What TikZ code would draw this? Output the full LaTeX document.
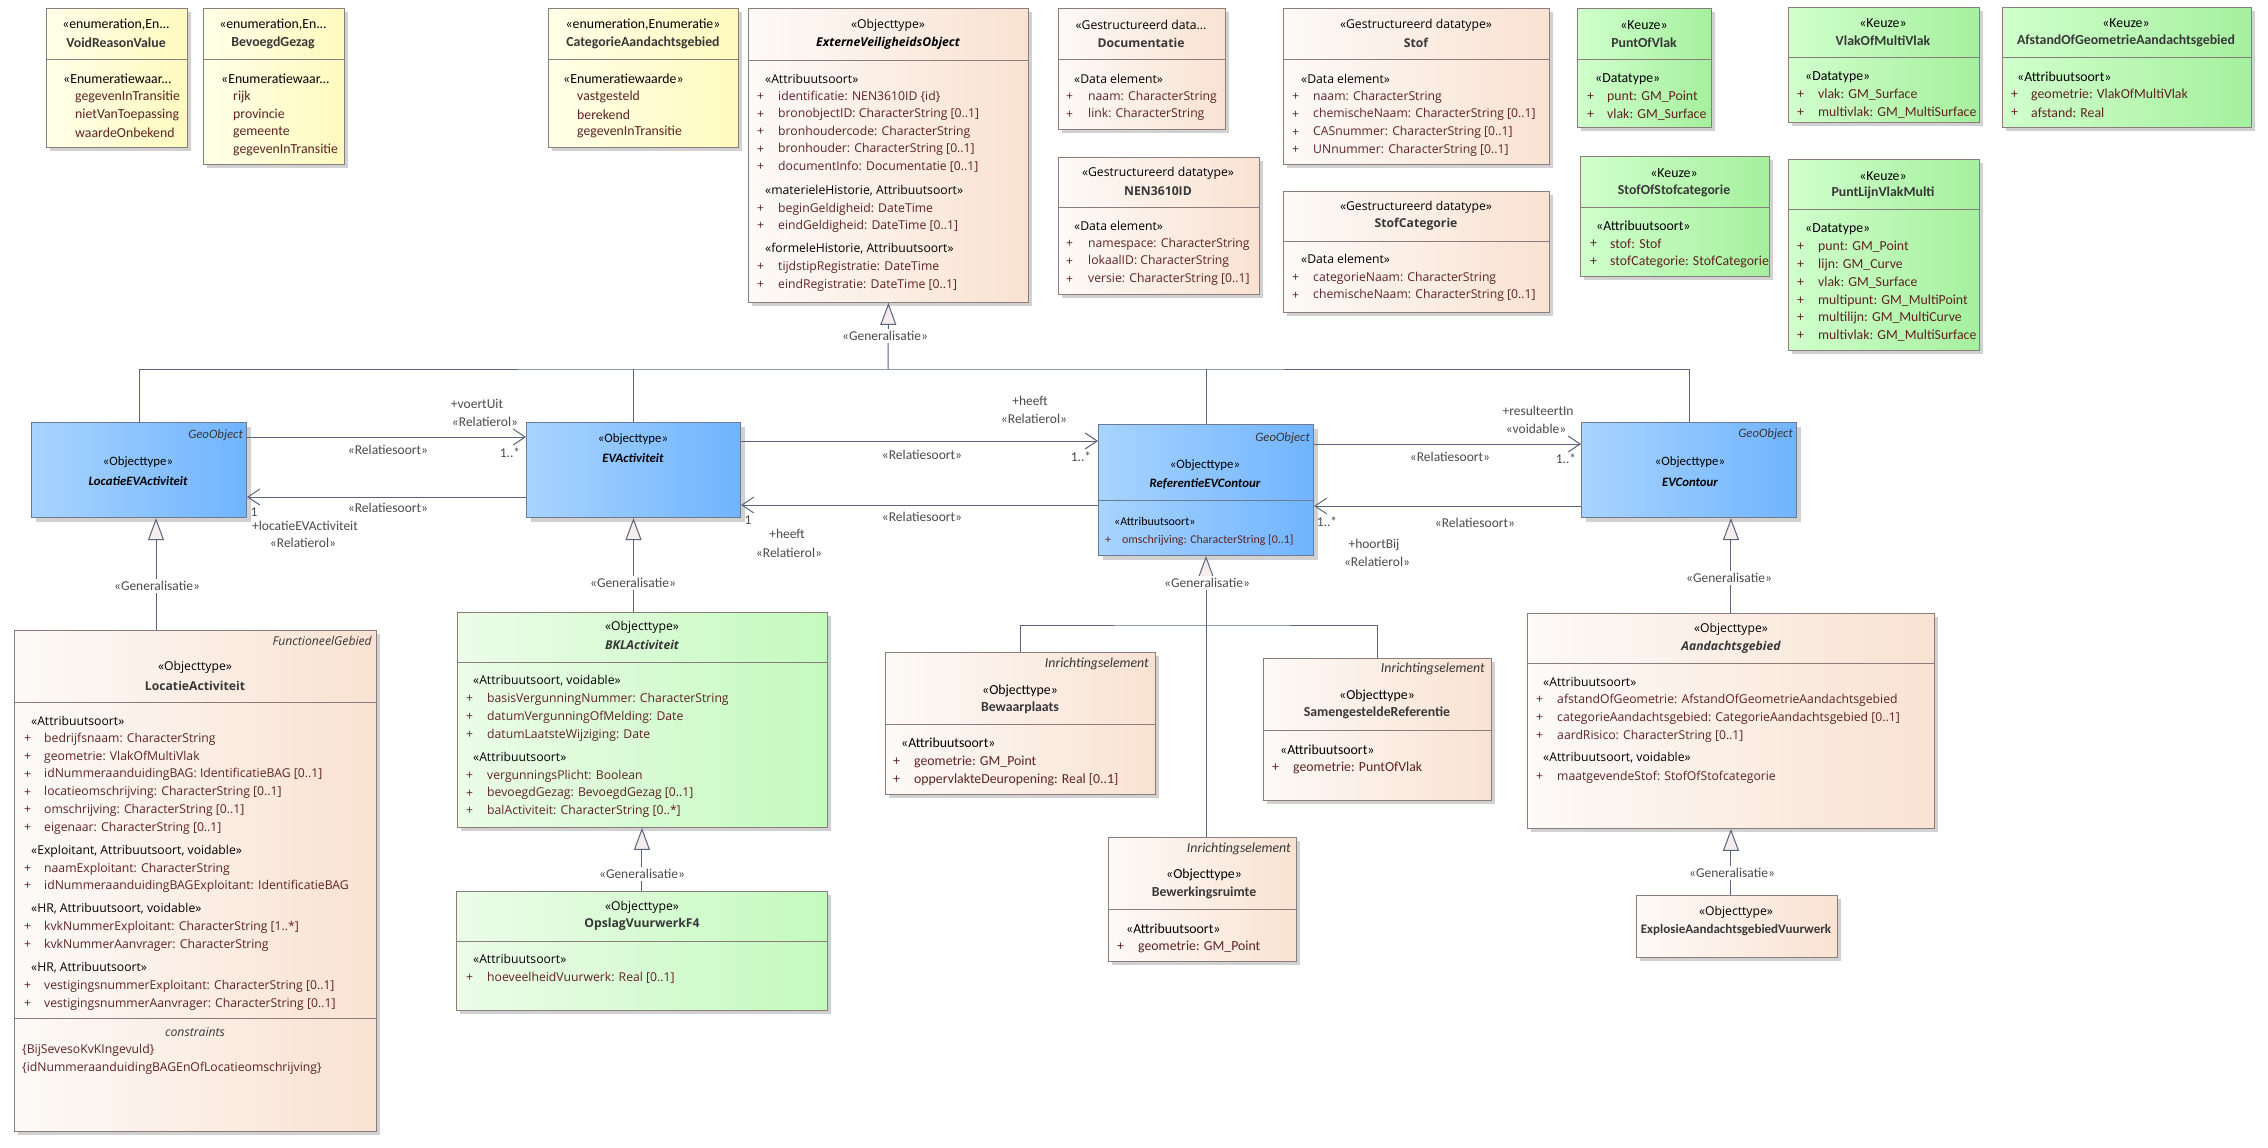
\documentclass[tikz,border=0pt]{standalone}
\usepackage{fontspec}
\setmainfont{Open Sans}
\newfontfamily\calibri{Carlito}
\usetikzlibrary{arrows.meta,shadows}

\definecolor{randkleur}{RGB}{140,125,125}
\definecolor{blauwrand}{RGB}{110,122,145}
\definecolor{lijnkleur}{RGB}{90,100,125}
\definecolor{attrkleur}{RGB}{95,35,35}
\definecolor{tekstgrijs}{RGB}{75,75,75}
\definecolor{naamkleur}{RGB}{55,55,55}
\definecolor{geelL}{RGB}{255,255,232}
\definecolor{geelR}{RGB}{255,250,190}
\definecolor{beigeL}{RGB}{253,250,247}
\definecolor{beigeR}{RGB}{249,226,210}
\definecolor{groenL}{RGB}{236,252,233}
\definecolor{groenR}{RGB}{196,250,190}
\definecolor{keuzeL}{RGB}{208,255,204}
\definecolor{keuzeR}{RGB}{165,240,158}
\definecolor{blauwL}{RGB}{168,212,255}
\definecolor{blauwR}{RGB}{112,180,255}
\definecolor{driehoek}{RGB}{245,236,236}

\newcommand\vakfont{\fontsize{12.2}{14}\selectfont}

\begin{document}
\begin{tikzpicture}[
    x=1pt,
    y=-1pt,
    schaduw/.style={drop shadow={shadow xshift=4pt, shadow yshift=-4pt, fill=black!18, opacity=1}},
    box/.style n args={4}{anchor=north west, inner sep=0pt, minimum width={#3-#1}, minimum height={#4-#2}, at={(#1,#2)}},
    geel/.style={schaduw, draw=randkleur, line width=0.9pt, left color=geelL, right color=geelR},
    beige/.style={schaduw, draw=randkleur, line width=0.9pt, left color=beigeL, right color=beigeR},
    groen/.style={schaduw, draw=randkleur, line width=0.9pt, left color=groenL, right color=groenR},
    keuze/.style={schaduw, draw=randkleur, line width=0.9pt, left color=keuzeL, right color=keuzeR},
    blauw/.style={schaduw, draw=blauwrand, line width=1pt, left color=blauwL, right color=blauwR},
    kop/.style={draw=randkleur, line width=0.8pt},
    stereo/.style={font=\vakfont, inner sep=0pt},
    naam/.style={font=\vakfont\bfseries, text=naamkleur, inner sep=0pt},
    abstr/.style={font=\vakfont\bfseries\itshape, text=black, inner sep=0pt},
    groep/.style={font=\vakfont, anchor=west, inner sep=0pt},
    attr/.style={font=\vakfont, text=attrkleur, anchor=west, inner sep=0pt},
    hoektekst/.style={font=\vakfont\itshape, text=naamkleur, anchor=east, inner sep=0pt},
    rol/.style={font=\calibri\fontsize{13.5}{15}\selectfont, text=tekstgrijs, inner sep=0pt},
    gentekst/.style={rol, fill=white, inner sep=2pt},
    lijn/.style={draw=lijnkleur, line width=1pt},
    assoc/.style={lijn, -{Straight Barb[length=12pt, width=16pt]}},
    genpijl/.style={lijn, -{Triangle[length=22pt, width=16pt, fill=driehoek]}}
]
\path[fill=white, use as bounding box] (0,0) rectangle (2268,1148);

% Enumeraties en keuzes
\begin{scope}
\renewcommand\vakfont{\calibri\fontsize{13.8}{16}\selectfont}
\node[geel, box={46}{8}{187}{147}] (void) {};
\draw[kop] (void.west |- 0,59) -- (void.east |- 0,59);
\node[stereo] (void-s) at (116,25) {«enumeration,En...};
\node[naam] (void-n) at (116,43) {VoidReasonValue};
\node[groep] (void-g) at (63,79) {«Enumeratiewaar...};
\foreach \t [count=\i from 0] in {gegevenInTransitie, nietVanToepassing, waardeOnbekend}
    \node[attr] (void-a\i) at (75, 97+17.7*\i) {\t};

\node[geel, box={203}{8}{344}{164}] (gezag) {};
\draw[kop] (gezag.west |- 0,59) -- (gezag.east |- 0,59);
\node[stereo] (gezag-s) at (273,25) {«enumeration,En...};
\node[naam] (gezag-n) at (273,43) {BevoegdGezag};
\node[groep] (gezag-g) at (221,79) {«Enumeratiewaar...};
\foreach \t [count=\i from 0] in {rijk, provincie, gemeente, gegevenInTransitie}
    \node[attr] (gezag-a\i) at (233, 97+17.7*\i) {\t};

\node[geel, box={548}{8}{738}{147}] (catag) {};
\draw[kop] (catag.west |- 0,59) -- (catag.east |- 0,59);
\node[stereo] (catag-s) at (643,25) {«enumeration,Enumeratie»};
\node[naam] (catag-n) at (643,43) {CategorieAandachtsgebied};
\node[groep] (catag-g) at (563,79) {«Enumeratiewaarde»};
\foreach \t [count=\i from 0] in {vastgesteld, berekend, gegevenInTransitie}
    \node[attr] (catag-a\i) at (577, 97+17.7*\i) {\t};

\node[keuze, box={1577}{8}{1711}{127}] (pov) {};
\draw[kop] (pov.west |- 0,59) -- (pov.east |- 0,59);
\node[stereo] (pov-s) at (1644,25) {«Keuze»};
\node[naam] (pov-n) at (1644,43) {PuntOfVlak};
\node[groep] (pov-g) at (1595,79) {«Datatype»};
\foreach \t [count=\i from 0] in {punt: GM\_Point, vlak: GM\_Surface} {
    \node[attr] (pov-p\i) at (1587, 97+17.7*\i) {+};
    \node[attr] (pov-a\i) at (1607, 97+17.7*\i) {\t};
}

\node[keuze, box={1788}{7}{1979}{122}] (vomv) {};
\draw[kop] (vomv.west |- 0,57) -- (vomv.east |- 0,57);
\node[stereo] (vomv-s) at (1883,23) {«Keuze»};
\node[naam] (vomv-n) at (1883,41) {VlakOfMultiVlak};
\node[groep] (vomv-g) at (1805,77) {«Datatype»};
\foreach \t [count=\i from 0] in {vlak: GM\_Surface, multivlak: GM\_MultiSurface} {
    \node[attr] (vomv-p\i) at (1797, 95+17.7*\i) {+};
    \node[attr] (vomv-a\i) at (1818, 95+17.7*\i) {\t};
}

\node[keuze, box={2002}{7}{2251}{127}] (afst) {};
\draw[kop] (afst.west |- 0,57) -- (afst.east |- 0,57);
\node[stereo] (afst-s) at (2126,23) {«Keuze»};
\node[naam] (afst-n) at (2126,41) {AfstandOfGeometrieAandachtsgebied};
\node[groep] (afst-g) at (2017,77) {«Attribuutsoort»};
\foreach \t [count=\i from 0] in {geometrie: VlakOfMultiVlak, afstand: Real} {
    \node[attr] (afst-p\i) at (2011, 95+17.7*\i) {+};
    \node[attr] (afst-a\i) at (2031, 95+17.7*\i) {\t};
}

\node[keuze, box={1580}{156}{1769}{276}] (sosc) {};
\draw[kop] (sosc.west |- 0,207) -- (sosc.east |- 0,207);
\node[stereo] (sosc-s) at (1674,173) {«Keuze»};
\node[naam] (sosc-n) at (1674,191) {StofOfStofcategorie};
\node[groep] (sosc-g) at (1596,226) {«Attribuutsoort»};
\foreach \t [count=\i from 0] in {stof: Stof, stofCategorie: StofCategorie} {
    \node[attr] (sosc-p\i) at (1590, 244+17.7*\i) {+};
    \node[attr] (sosc-a\i) at (1610, 244+17.7*\i) {\t};
}

\node[keuze, box={1788}{159}{1979}{350}] (plvm) {};
\draw[kop] (plvm.west |- 0,209) -- (plvm.east |- 0,209);
\node[stereo] (plvm-s) at (1883,176) {«Keuze»};
\node[naam] (plvm-n) at (1883,193) {PuntLijnVlakMulti};
\node[groep] (plvm-g) at (1805,229) {«Datatype»};
\foreach \t [count=\i from 0] in {punt: GM\_Point, lijn: GM\_Curve, vlak: GM\_Surface,
        multipunt: GM\_MultiPoint, multilijn: GM\_MultiCurve, multivlak: GM\_MultiSurface} {
    \node[attr] (plvm-p\i) at (1797, 247+17.8*\i) {+};
    \node[attr] (plvm-a\i) at (1818, 247+17.8*\i) {\t};
}
\end{scope}

% Gestructureerde datatypes
\node[beige, box={1058}{8}{1225}{129}] (doc) {};
\draw[kop] (doc.west |- 0,59) -- (doc.east |- 0,59);
\node[stereo] (doc-s) at (1141,25) {«Gestructureerd data...};
\node[naam] (doc-n) at (1141,43) {Documentatie};
\node[groep] (doc-g) at (1074,79) {«Data element»};
\foreach \t [count=\i from 0] in {naam: CharacterString, link: CharacterString} {
    \node[attr] (doc-p\i) at (1066, 97+17.7*\i) {+};
    \node[attr] (doc-a\i) at (1088, 97+17.7*\i) {\t};
}

\node[beige, box={1058}{157}{1259}{294}] (nen) {};
\draw[kop] (nen.west |- 0,207) -- (nen.east |- 0,207);
\node[stereo] (nen-s) at (1158,173) {«Gestructureerd datatype»};
\node[naam] (nen-n) at (1158,191) {NEN3610ID};
\node[groep] (nen-g) at (1074,226) {«Data element»};
\foreach \t [count=\i from 0] in {namespace: CharacterString, lokaalID: CharacterString, versie: CharacterString [0..1]} {
    \node[attr] (nen-p\i) at (1066, 244+17.7*\i) {+};
    \node[attr] (nen-a\i) at (1088, 244+17.7*\i) {\t};
}

\node[beige, box={1283}{8}{1549}{164}] (stof) {};
\draw[kop] (stof.west |- 0,59) -- (stof.east |- 0,59);
\node[stereo] (stof-s) at (1416,25) {«Gestructureerd datatype»};
\node[naam] (stof-n) at (1416,43) {Stof};
\node[groep] (stof-g) at (1301,79) {«Data element»};
\foreach \t [count=\i from 0] in {naam: CharacterString, chemischeNaam: CharacterString [0..1],
        CASnummer: CharacterString [0..1], UNnummer: CharacterString [0..1]} {
    \node[attr] (stof-p\i) at (1292, 97+17.7*\i) {+};
    \node[attr] (stof-a\i) at (1313, 97+17.7*\i) {\t};
}

\node[beige, box={1283}{191}{1549}{312}] (stofcat) {};
\draw[kop] (stofcat.west |- 0,241) -- (stofcat.east |- 0,241);
\node[stereo] (stofcat-s) at (1416,207) {«Gestructureerd datatype»};
\node[naam] (stofcat-n) at (1416,224) {StofCategorie};
\node[groep] (stofcat-g) at (1301,259) {«Data element»};
\foreach \t [count=\i from 0] in {categorieNaam: CharacterString, chemischeNaam: CharacterString [0..1]} {
    \node[attr] (stofcat-p\i) at (1292, 278+17.7*\i) {+};
    \node[attr] (stofcat-a\i) at (1313, 278+17.7*\i) {\t};
}

% ExterneVeiligheidsObject
\node[beige, box={748}{8}{1028}{302}] (extern) {};
\draw[kop] (extern.west |- 0,60) -- (extern.east |- 0,60);
\node[stereo] (extern-s) at (888,25) {«Objecttype»};
\node[abstr] (extern-n) at (888,43) {ExterneVeiligheidsObject};
\node[groep] (extern-g1) at (765,79) {«Attribuutsoort»};
\foreach \t [count=\i from 0] in {identificatie: NEN3610ID \{id\}, bronobjectID: CharacterString [0..1],
        bronhoudercode: CharacterString, bronhouder: CharacterString [0..1], documentInfo: Documentatie [0..1]} {
    \node[attr] (extern-p\i) at (757, 97+17.5*\i) {+};
    \node[attr] (extern-a\i) at (778, 97+17.5*\i) {\t};
}
\node[groep] (extern-g2) at (765,191) {«materieleHistorie, Attribuutsoort»};
\node[attr] (extern-p5) at (757,209) {+};
\node[attr] (extern-a5) at (778,209) {beginGeldigheid: DateTime};
\node[attr] (extern-p6) at (757,226) {+};
\node[attr] (extern-a6) at (778,226) {eindGeldigheid: DateTime [0..1]};
\node[groep] (extern-g3) at (765,249) {«formeleHistorie, Attribuutsoort»};
\node[attr] (extern-p7) at (757,267) {+};
\node[attr] (extern-a7) at (778,267) {tijdstipRegistratie: DateTime};
\node[attr] (extern-p8) at (757,285) {+};
\node[attr] (extern-a8) at (778,285) {eindRegistratie: DateTime [0..1]};

% Objecttypen blauw
\begin{scope}
\renewcommand\vakfont{\calibri\fontsize{12.8}{14}\selectfont}
\node[blauw, box={31}{422}{246}{517}] (locev) {};
\node[hoektekst] (locev-t) at (243,435) {GeoObject};
\node[stereo] (locev-s) at (138,462) {«Objecttype»};
\node[abstr] (locev-n) at (138,481) {LocatieEVActiviteit};

\node[blauw, box={526}{422}{740}{517}] (evact) {};
\node[stereo] (evact-s) at (633,439) {«Objecttype»};
\node[abstr] (evact-n) at (633,458) {EVActiviteit};

\node[blauw, box={1098}{424}{1313}{555}] (ref) {};
\draw[draw=blauwrand, line width=0.8pt] (ref.west |- 0,500) -- (ref.east |- 0,500);
\node[hoektekst] (ref-t) at (1310,438) {GeoObject};
\node[stereo] (ref-s) at (1205,465) {«Objecttype»};
\node[abstr] (ref-n) at (1205,484) {ReferentieEVContour};
\renewcommand\vakfont{\calibri\fontsize{11.9}{14}\selectfont}
\node[groep] (ref-g) at (1114,521) {«Attribuutsoort»};
\node[attr] (ref-p0) at (1105,540) {+};
\node[attr] (ref-a0) at (1122,540) {omschrijving: CharacterString [0..1]};
\renewcommand\vakfont{\calibri\fontsize{12.8}{14}\selectfont}

\node[blauw, box={1581}{422}{1796}{517}] (evc) {};
\node[hoektekst] (evc-t) at (1793,434) {GeoObject};
\node[stereo] (evc-s) at (1690,462) {«Objecttype»};
\node[abstr] (evc-n) at (1690,482) {EVContour};
\end{scope}

% LocatieActiviteit
\node[beige, box={14}{630}{376}{1131}] (locact) {};
\draw[kop] (locact.west |- 0,702) -- (locact.east |- 0,702);
\draw[kop] (locact.west |- 0,1018) -- (locact.east |- 0,1018);
\node[hoektekst] (locact-t) at (372,641) {FunctioneelGebied};
\node[stereo] (locact-s) at (195,667) {«Objecttype»};
\node[naam] (locact-n) at (195,686) {LocatieActiviteit};
\node[groep] (locact-g1) at (31,721) {«Attribuutsoort»};
\foreach \t [count=\i from 0] in {bedrijfsnaam: CharacterString, geometrie: VlakOfMultiVlak,
        idNummeraanduidingBAG: IdentificatieBAG [0..1], locatieomschrijving: CharacterString [0..1],
        omschrijving: CharacterString [0..1], eigenaar: CharacterString [0..1]} {
    \node[attr] (locact-p\i) at (24, 739+17.8*\i) {+};
    \node[attr] (locact-a\i) at (44, 739+17.8*\i) {\t};
}
\node[groep] (locact-g2) at (31,851) {«Exploitant, Attribuutsoort, voidable»};
\node[attr] (locact-p6) at (24,869) {+};
\node[attr] (locact-a6) at (44,869) {naamExploitant: CharacterString};
\node[attr] (locact-p7) at (24,886) {+};
\node[attr] (locact-a7) at (44,886) {idNummeraanduidingBAGExploitant: IdentificatieBAG};
\node[groep] (locact-g3) at (31,909) {«HR, Attribuutsoort, voidable»};
\node[attr] (locact-p8) at (24,927) {+};
\node[attr] (locact-a8) at (44,927) {kvkNummerExploitant: CharacterString [1..*]};
\node[attr] (locact-p9) at (24,945) {+};
\node[attr] (locact-a9) at (44,945) {kvkNummerAanvrager: CharacterString};
\node[groep] (locact-g4) at (31,968) {«HR, Attribuutsoort»};
\node[attr] (locact-p10) at (24,986) {+};
\node[attr] (locact-a10) at (44,986) {vestigingsnummerExploitant: CharacterString [0..1]};
\node[attr] (locact-p11) at (24,1004) {+};
\node[attr] (locact-a11) at (44,1004) {vestigingsnummerAanvrager: CharacterString [0..1]};
\node[stereo, font=\vakfont\itshape, text=naamkleur] (locact-c) at (195,1032) {constraints};
\node[attr] (locact-c1) at (22,1050) {\{BijSevesoKvKIngevuld\}};
\node[attr] (locact-c2) at (22,1068) {\{idNummeraanduidingBAGEnOfLocatieomschrijving\}};

% BKLActiviteit en OpslagVuurwerkF4
\node[groen, box={457}{612}{827}{827}] (bkl) {};
\draw[kop] (bkl.west |- 0,662) -- (bkl.east |- 0,662);
\node[stereo] (bkl-s) at (642,627) {«Objecttype»};
\node[abstr, text=naamkleur] (bkl-n) at (642,645) {BKLActiviteit};
\node[groep] (bkl-g1) at (473,681) {«Attribuutsoort, voidable»};
\foreach \t [count=\i from 0] in {basisVergunningNummer: CharacterString, datumVergunningOfMelding: Date,
        datumLaatsteWijziging: Date} {
    \node[attr] (bkl-p\i) at (466, 699+18*\i) {+};
    \node[attr] (bkl-a\i) at (487, 699+18*\i) {\t};
}
\node[groep] (bkl-g2) at (473,757) {«Attribuutsoort»};
\foreach \t [count=\i from 3] in {vergunningsPlicht: Boolean, bevoegdGezag: BevoegdGezag [0..1],
        balActiviteit: CharacterString [0..*]} {
    \node[attr] (bkl-p\i) at (466, 776+17.6*\i-52.8) {+};
    \node[attr] (bkl-a\i) at (487, 776+17.6*\i-52.8) {\t};
}

\node[groen, box={456}{891}{827}{1010}] (opslag) {};
\draw[kop] (opslag.west |- 0,941) -- (opslag.east |- 0,941);
\node[stereo] (opslag-s) at (642,907) {«Objecttype»};
\node[naam] (opslag-n) at (642,924) {OpslagVuurwerkF4};
\node[groep] (opslag-g) at (473,959) {«Attribuutsoort»};
\node[attr] (opslag-p0) at (466,978) {+};
\node[attr] (opslag-a0) at (487,978) {hoeveelheidVuurwerk: Real [0..1]};

% Inrichtingselementen
\begin{scope}
\renewcommand\vakfont{\calibri\fontsize{13.8}{16}\selectfont}
\node[beige, box={885}{652}{1155}{794}] (bewaar) {};
\draw[kop] (bewaar.west |- 0,724) -- (bewaar.east |- 0,724);
\node[hoektekst] (bewaar-t) at (1149,664) {Inrichtingselement};
\node[stereo] (bewaar-s) at (1020,691) {«Objecttype»};
\node[naam] (bewaar-n) at (1020,708) {Bewaarplaats};
\node[groep] (bewaar-g) at (901,743) {«Attribuutsoort»};
\foreach \t [count=\i from 0] in {geometrie: GM\_Point, oppervlakteDeuropening: Real [0..1]} {
    \node[attr] (bewaar-p\i) at (893, 762+18*\i) {+};
    \node[attr] (bewaar-a\i) at (914, 762+18*\i) {\t};
}

\node[beige, box={1263}{658}{1491}{800}] (samen) {};
\draw[kop] (samen.west |- 0,730) -- (samen.east |- 0,730);
\node[hoektekst] (samen-t) at (1485,669) {Inrichtingselement};
\node[stereo] (samen-s) at (1377,696) {«Objecttype»};
\node[naam] (samen-n) at (1377,713) {SamengesteldeReferentie};
\node[groep] (samen-g) at (1280,750) {«Attribuutsoort»};
\node[attr] (samen-p0) at (1272,768) {+};
\node[attr] (samen-a0) at (1293,768) {geometrie: PuntOfVlak};

\node[beige, box={1108}{837}{1296}{961}] (bewerk) {};
\draw[kop] (bewerk.west |- 0,909) -- (bewerk.east |- 0,909);
\node[hoektekst] (bewerk-t) at (1291,849) {Inrichtingselement};
\node[stereo] (bewerk-s) at (1204,875) {«Objecttype»};
\node[naam] (bewerk-n) at (1204,893) {Bewerkingsruimte};
\node[groep] (bewerk-g) at (1126,929) {«Attribuutsoort»};
\node[attr] (bewerk-p0) at (1117,947) {+};
\node[attr] (bewerk-a0) at (1138,947) {geometrie: GM\_Point};
\end{scope}

% Aandachtsgebied
\node[beige, box={1527}{613}{1934}{828}] (aand) {};
\draw[kop] (aand.west |- 0,663) -- (aand.east |- 0,663);
\node[stereo] (aand-s) at (1731,629) {«Objecttype»};
\node[abstr, text=naamkleur] (aand-n) at (1731,647) {Aandachtsgebied};
\node[groep] (aand-g1) at (1543,682) {«Attribuutsoort»};
\foreach \t [count=\i from 0] in {afstandOfGeometrie: AfstandOfGeometrieAandachtsgebied,
        categorieAandachtsgebied: CategorieAandachtsgebied [0..1], aardRisico: CharacterString [0..1]} {
    \node[attr] (aand-p\i) at (1536, 700+18*\i) {+};
    \node[attr] (aand-a\i) at (1557, 700+18*\i) {\t};
}
\node[groep] (aand-g2) at (1543,758) {«Attribuutsoort, voidable»};
\node[attr] (aand-p3) at (1536,777) {+};
\node[attr] (aand-a3) at (1557,777) {maatgevendeStof: StofOfStofcategorie};

\node[beige, box={1636}{895}{1837}{957}] (explosie) {};
\node[stereo] (explosie-s) at (1736,912) {«Objecttype»};
\node[naam, font=\calibri\fontsize{13}{15}\selectfont\bfseries] (explosie-n) at (1736,930) {ExplosieAandachtsgebiedVuurwerk};

% Generalisaties
\coordinate (bus) at (888,369);
\coordinate (refbus) at (1205,625);
\draw[genpijl] (bus) -- (extern.south);
\draw[lijn] (locev.north) |- (bus) -| (evc.north);
\draw[lijn] (evact.north) -- (evact.north |- bus);
\draw[lijn] (ref.north) -- (ref.north |- bus);
\draw[genpijl] (locact.north -| 156,0) -- (locev.south -| 156,0);
\draw[genpijl] (bkl.north -| evact.south) -- (evact.south);
\draw[genpijl] (opslag.north) -- (opslag.north |- bkl.south);
\draw[genpijl] (bewerk.north -| ref.south) -- (ref.south);
\draw[lijn] (bewaar.north) |- (refbus) -| (samen.north);
\draw[genpijl] (aand.north) -- (aand.north |- evc.south);
\draw[genpijl] (explosie.north -| aand.south) -- (aand.south);

\node[gentekst] (gen1) at (885,336) {«Generalisatie»};
\node[gentekst] (gen2) at (157,586) {«Generalisatie»};
\node[gentekst] (gen3) at (633,583) {«Generalisatie»};
\node[gentekst] (gen4) at (1207,583) {«Generalisatie»};
\node[gentekst] (gen5) at (1729,578) {«Generalisatie»};
\node[gentekst] (gen6) at (642,874) {«Generalisatie»};
\node[gentekst] (gen7) at (1732,873) {«Generalisatie»};

% Relatiesoorten
\draw[assoc] (locev.east |- 0,437) -- (evact.west |- 0,437);
\draw[assoc] (evact.west |- 0,497) -- (locev.east |- 0,497);
\draw[assoc] (evact.east |- 0,441) -- (ref.west |- 0,441);
\draw[assoc] (ref.west |- 0,505) -- (evact.east |- 0,505);
\draw[assoc] (ref.east |- 0,444) -- (evc.west |- 0,444);
\draw[assoc] (evc.west |- 0,506) -- (ref.east |- 0,506);

\node[rol] (r1a) at (477,404) {+voertUit};
\node[rol] (r1b) at (485,422) {«Relatierol»};
\node[rol] (r1c) at (388,450) {«Relatiesoort»};
\node[rol] (r1d) at (510,453) {1..*};
\node[rol] (r2c) at (388,508) {«Relatiesoort»};
\node[rol] (r2d) at (254,512) {1};
\node[rol] (r2a) at (305,526) {+locatieEVActiviteit};
\node[rol] (r2b) at (303,543) {«Relatierol»};
\node[rol] (r3a) at (1030,401) {+heeft};
\node[rol] (r3b) at (1034,419) {«Relatierol»};
\node[rol] (r3c) at (922,455) {«Relatiesoort»};
\node[rol] (r3d) at (1081,457) {1..*};
\node[rol] (r4c) at (922,517) {«Relatiesoort»};
\node[rol] (r4d) at (748,520) {1};
\node[rol] (r4a) at (787,534) {+heeft};
\node[rol] (r4b) at (789,553) {«Relatierol»};
\node[rol] (r5a) at (1538,411) {+resulteertIn};
\node[rol] (r5b) at (1536,429) {«voidable»};
\node[rol] (r5c) at (1450,457) {«Relatiesoort»};
\node[rol] (r5d) at (1566,459) {1..*};
\node[rol] (r6c) at (1475,523) {«Relatiesoort»};
\node[rol] (r6d) at (1327,522) {1..*};
\node[rol] (r6a) at (1374,545) {+hoortBij};
\node[rol] (r6b) at (1377,562) {«Relatierol»};

\end{tikzpicture}
\end{document}
